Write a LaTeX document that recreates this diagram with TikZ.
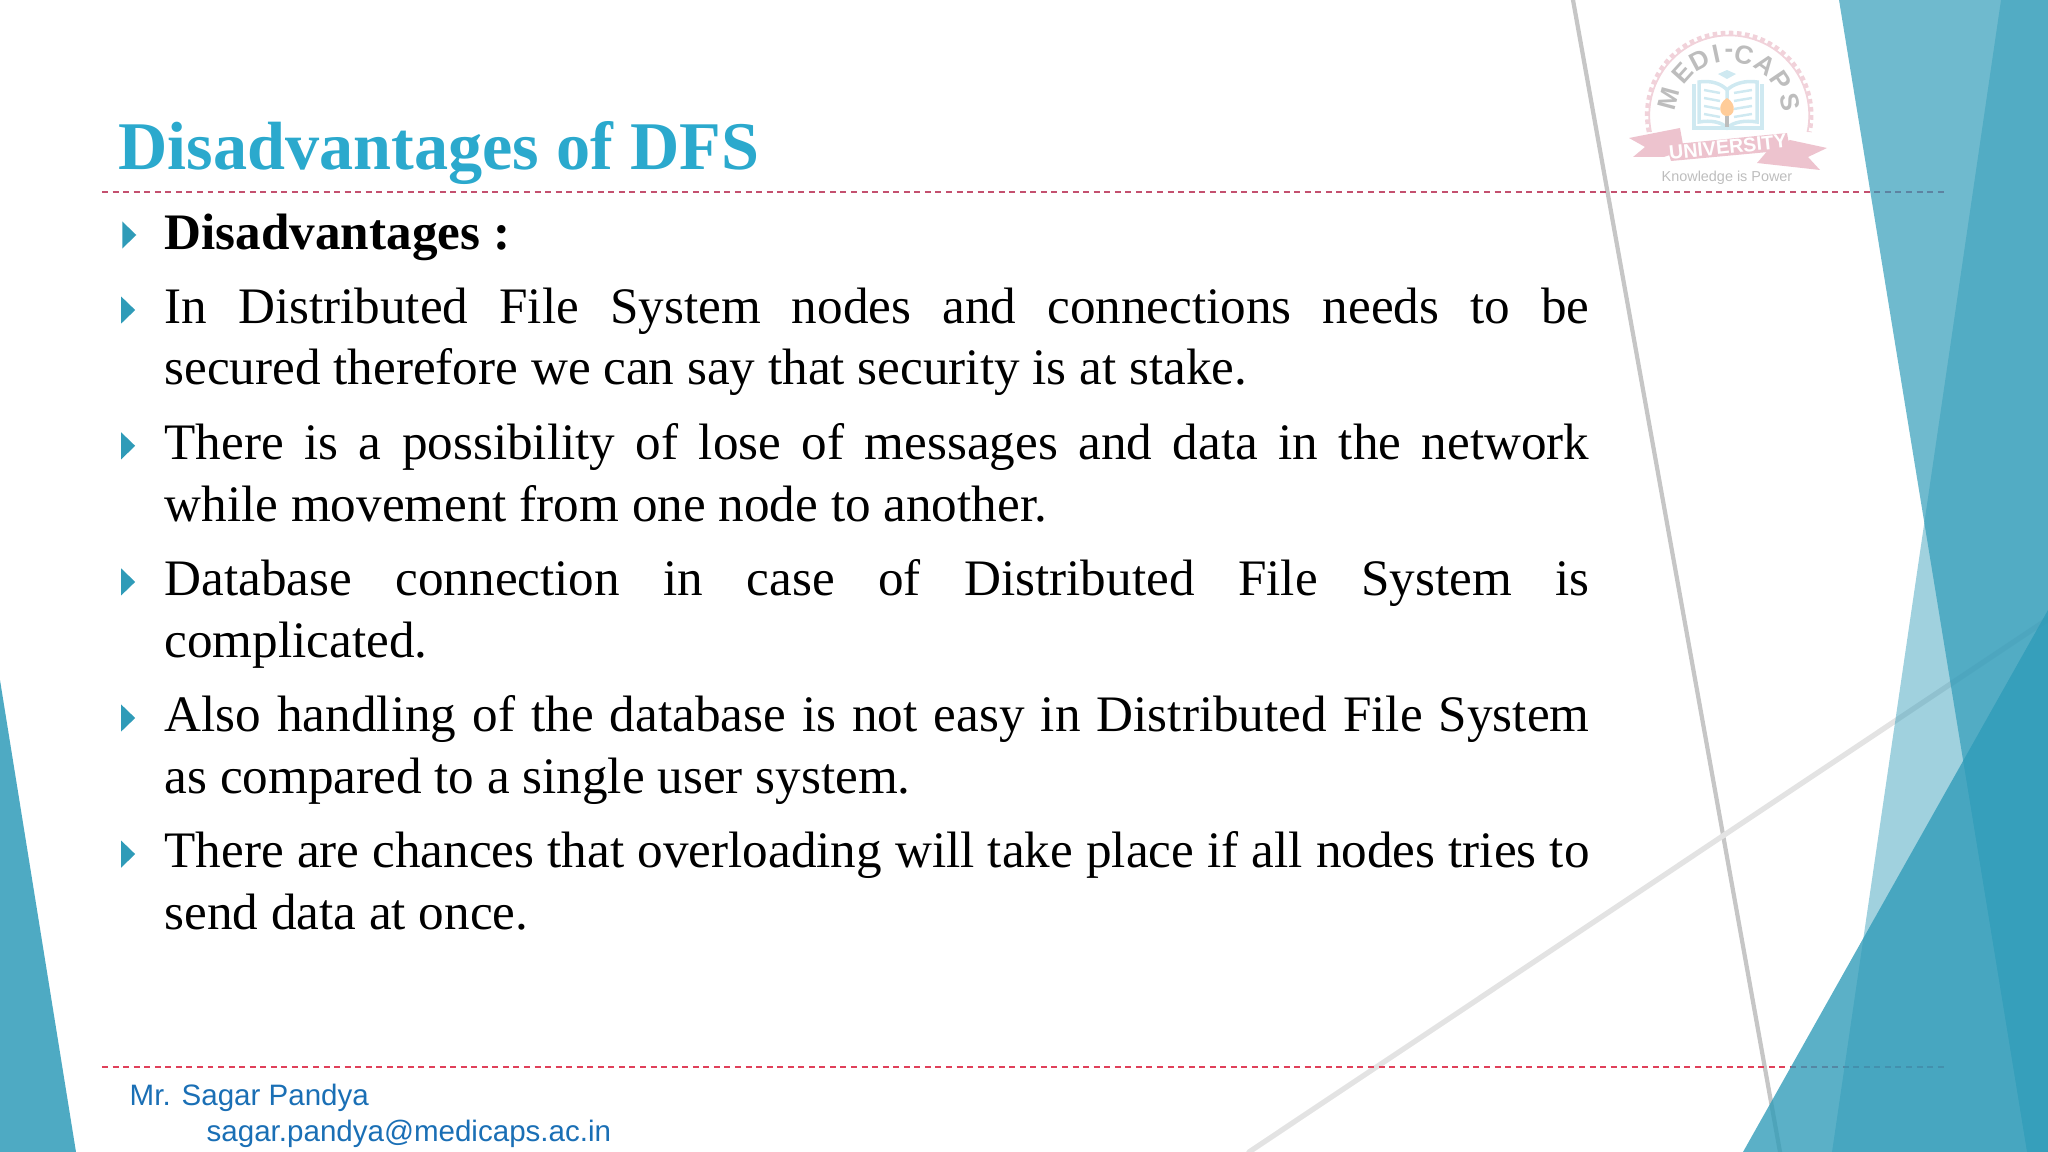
\documentclass[tikz,border=0pt]{standalone}
\usepackage{fontspec}
\setmainfont{Liberation Serif}
\setsansfont{Liberation Sans}
\usetikzlibrary{shapes.geometric}
\definecolor{facet}{HTML}{2F9BB8}
\definecolor{titleblue}{HTML}{2BA9CD}
\definecolor{footblue}{HTML}{1A6FB5}
\definecolor{dashtop}{HTML}{C4506F}
\definecolor{dashbot}{HTML}{E0405A}
\definecolor{logopink}{HTML}{EDC3CE}
\definecolor{logobook}{HTML}{CFE9F1}
\definecolor{logogrey}{HTML}{BDBDBD}
\newcommand{\pstrut}{\rule[-5pt]{0pt}{14pt}}
\tikzset{
  point/.style={text width=14.24cm, inner sep=0pt, align=justify, font=\fontsize{14.55}{17.47}\selectfont},
  bullet/.style={isosceles triangle, isosceles triangle apex angle=88, fill=facet, inner sep=0pt, minimum height=0.14cm},
  rule/.style={dash pattern=on 1.7pt off 1.3pt, line width=0.5pt},
  foot/.style={anchor=base west, inner sep=0pt, text=footblue, font=\sffamily\fontsize{8.4}{10}\selectfont},
  crease/.style={line cap=round},
  logoletter/.style={inner sep=0pt, text=logogrey, font=\sffamily\bfseries\fontsize{7.4}{8}\selectfont}
}
\begin{document}
\begin{tikzpicture}[x=0.01cm, y=-0.01cm, node distance=1.36cm]
  \useasboundingbox (0,0) rectangle (2048,1152);

  \draw[crease, gray!45, line width=1.2pt] (1573,0) -- (1780,1152);
  \draw[crease, gray!22, line width=1.5pt] (1249,1152) -- (2048,619);
  \draw[rule, dashtop] (102,192) -- (1946,192);
  \draw[rule, dashbot, line width=0.4pt] (102,1067) -- (1946,1067);

  \fill[facet, opacity=0.46] (2001,0) -- (2048,0) -- (2048,1152) -- (1832,1152) -- cycle;
  \fill[facet, opacity=0.69] (1839,0) -- (2048,0) -- (2048,1152) -- (2027,1152) -- cycle;
  \fill[facet, opacity=0.79] (1743,1152) -- (2048,610) -- (2048,1152) -- cycle;
  \fill[facet, opacity=0.85] (0,680) -- (76,1152) -- (0,1152) -- cycle;

  % logo
  \draw[logopink!75, line width=1.3pt, densely dotted] (1649,132) arc (168:372:82);
  \draw[logopink!75, line width=0.5pt] (1651,132) arc (168:372:80);
  \foreach \letter/\ang in {M/165,E/138,D/118,I/102,-/90,C/76,A/54,P/34,S/12}
    \node[logoletter, rotate=\ang-90] (L\ang) at ({1729+62*cos(\ang)},{115-62*sin(\ang)}) {\letter};
  \draw[logobook, line width=1.2pt] (1694,84) -- (1694,128) -- (1762,128) -- (1762,84);
  \draw[logobook, line width=1pt] (1699,82) .. controls (1711,80) and (1722,84) .. (1727,90) .. controls (1733,84) and (1745,80) .. (1757,82) -- (1757,122) .. controls (1745,120) and (1733,122) .. (1727,128) .. controls (1722,122) and (1711,120) .. (1699,122) -- cycle (1727,90) -- (1727,128);
  \foreach \row in {90,98,106,114}{
    \draw[logobook, line width=0.7pt] (1704,\row) -- (1720,\row+3);
    \draw[logobook, line width=0.7pt] (1734,\row+3) -- (1752,\row);
  }
  \fill[logobook] (1727,70) -- (1736,74) -- (1727,79) -- (1718,74) -- cycle;
  \fill[orange!40] (1727,98) .. controls (1737,104) and (1735,116) .. (1727,116) .. controls (1719,116) and (1717,104) .. (1727,98);
  \draw[logogrey, line width=1pt] (1727,116) -- (1727,127);
  \fill[logopink] (1629,138) -- (1680,128) -- (1684,150) -- (1664,157) -- (1633,157) -- (1645,147) -- cycle;
  \fill[logopink] (1790,140) -- (1827,148) -- (1808,157) -- (1820,170) -- (1757,163) -- (1770,148) -- cycle;
  \fill[logopink] (1666,145) -- (1787,133) -- (1790,150) -- (1671,161) -- cycle;
  \node[inner sep=0pt, rotate=6, text=white, font=\sffamily\bfseries\fontsize{5.6}{7}\selectfont] (U) at (1728,147) {UNIVERSITY};
  \node[inner sep=0pt, text=logogrey, font=\sffamily\fontsize{4.1}{5}\selectfont] (K) at (1727,178) {Knowledge is Power};

  \node[anchor=base west, inner sep=0pt, text=titleblue, font=\bfseries\fontsize{19.4}{23}\selectfont] (T) at (118,170) {Disadvantages of DFS};

  \node[anchor=base west, inner sep=0pt, font=\bfseries\fontsize{14.55}{17.47}\selectfont] (P1) at (164,250) {Disadvantages :};
  \node[point] (P2) at (877,345) {\pstrut In Distributed File System nodes and connections needs to be\linebreak secured therefore we can say that security is at stake.\pstrut};
  \node[point, below of=P2] (P3) {\pstrut There is a possibility of lose of messages and data in the network\linebreak while movement from one node to another.\pstrut};
  \node[point, below of=P3] (P4) {\pstrut Database connection in case of Distributed File System is\linebreak complicated.\pstrut};
  \node[point, below of=P4] (P5) {\pstrut Also handling of the database is not easy in Distributed File System\linebreak as compared to a single user system.\pstrut};
  \node[point, below of=P5] (P6) {\pstrut There are chances that overloading will take place if all nodes tries to\linebreak send data at once.\pstrut};

  \node[bullet] (B1) at (128,235) {};
  \foreach \i in {2,...,6}
    \node[bullet] (B\i) at ([shift={(-37,23)}]P\i.north west) {};

  \node[foot] (F1) at (129,1105) {Mr. Sagar Pandya};
  \node[foot] (F2) at (206,1141) {sagar.pandya@medicaps.ac.in};
\end{tikzpicture}
\end{document}
